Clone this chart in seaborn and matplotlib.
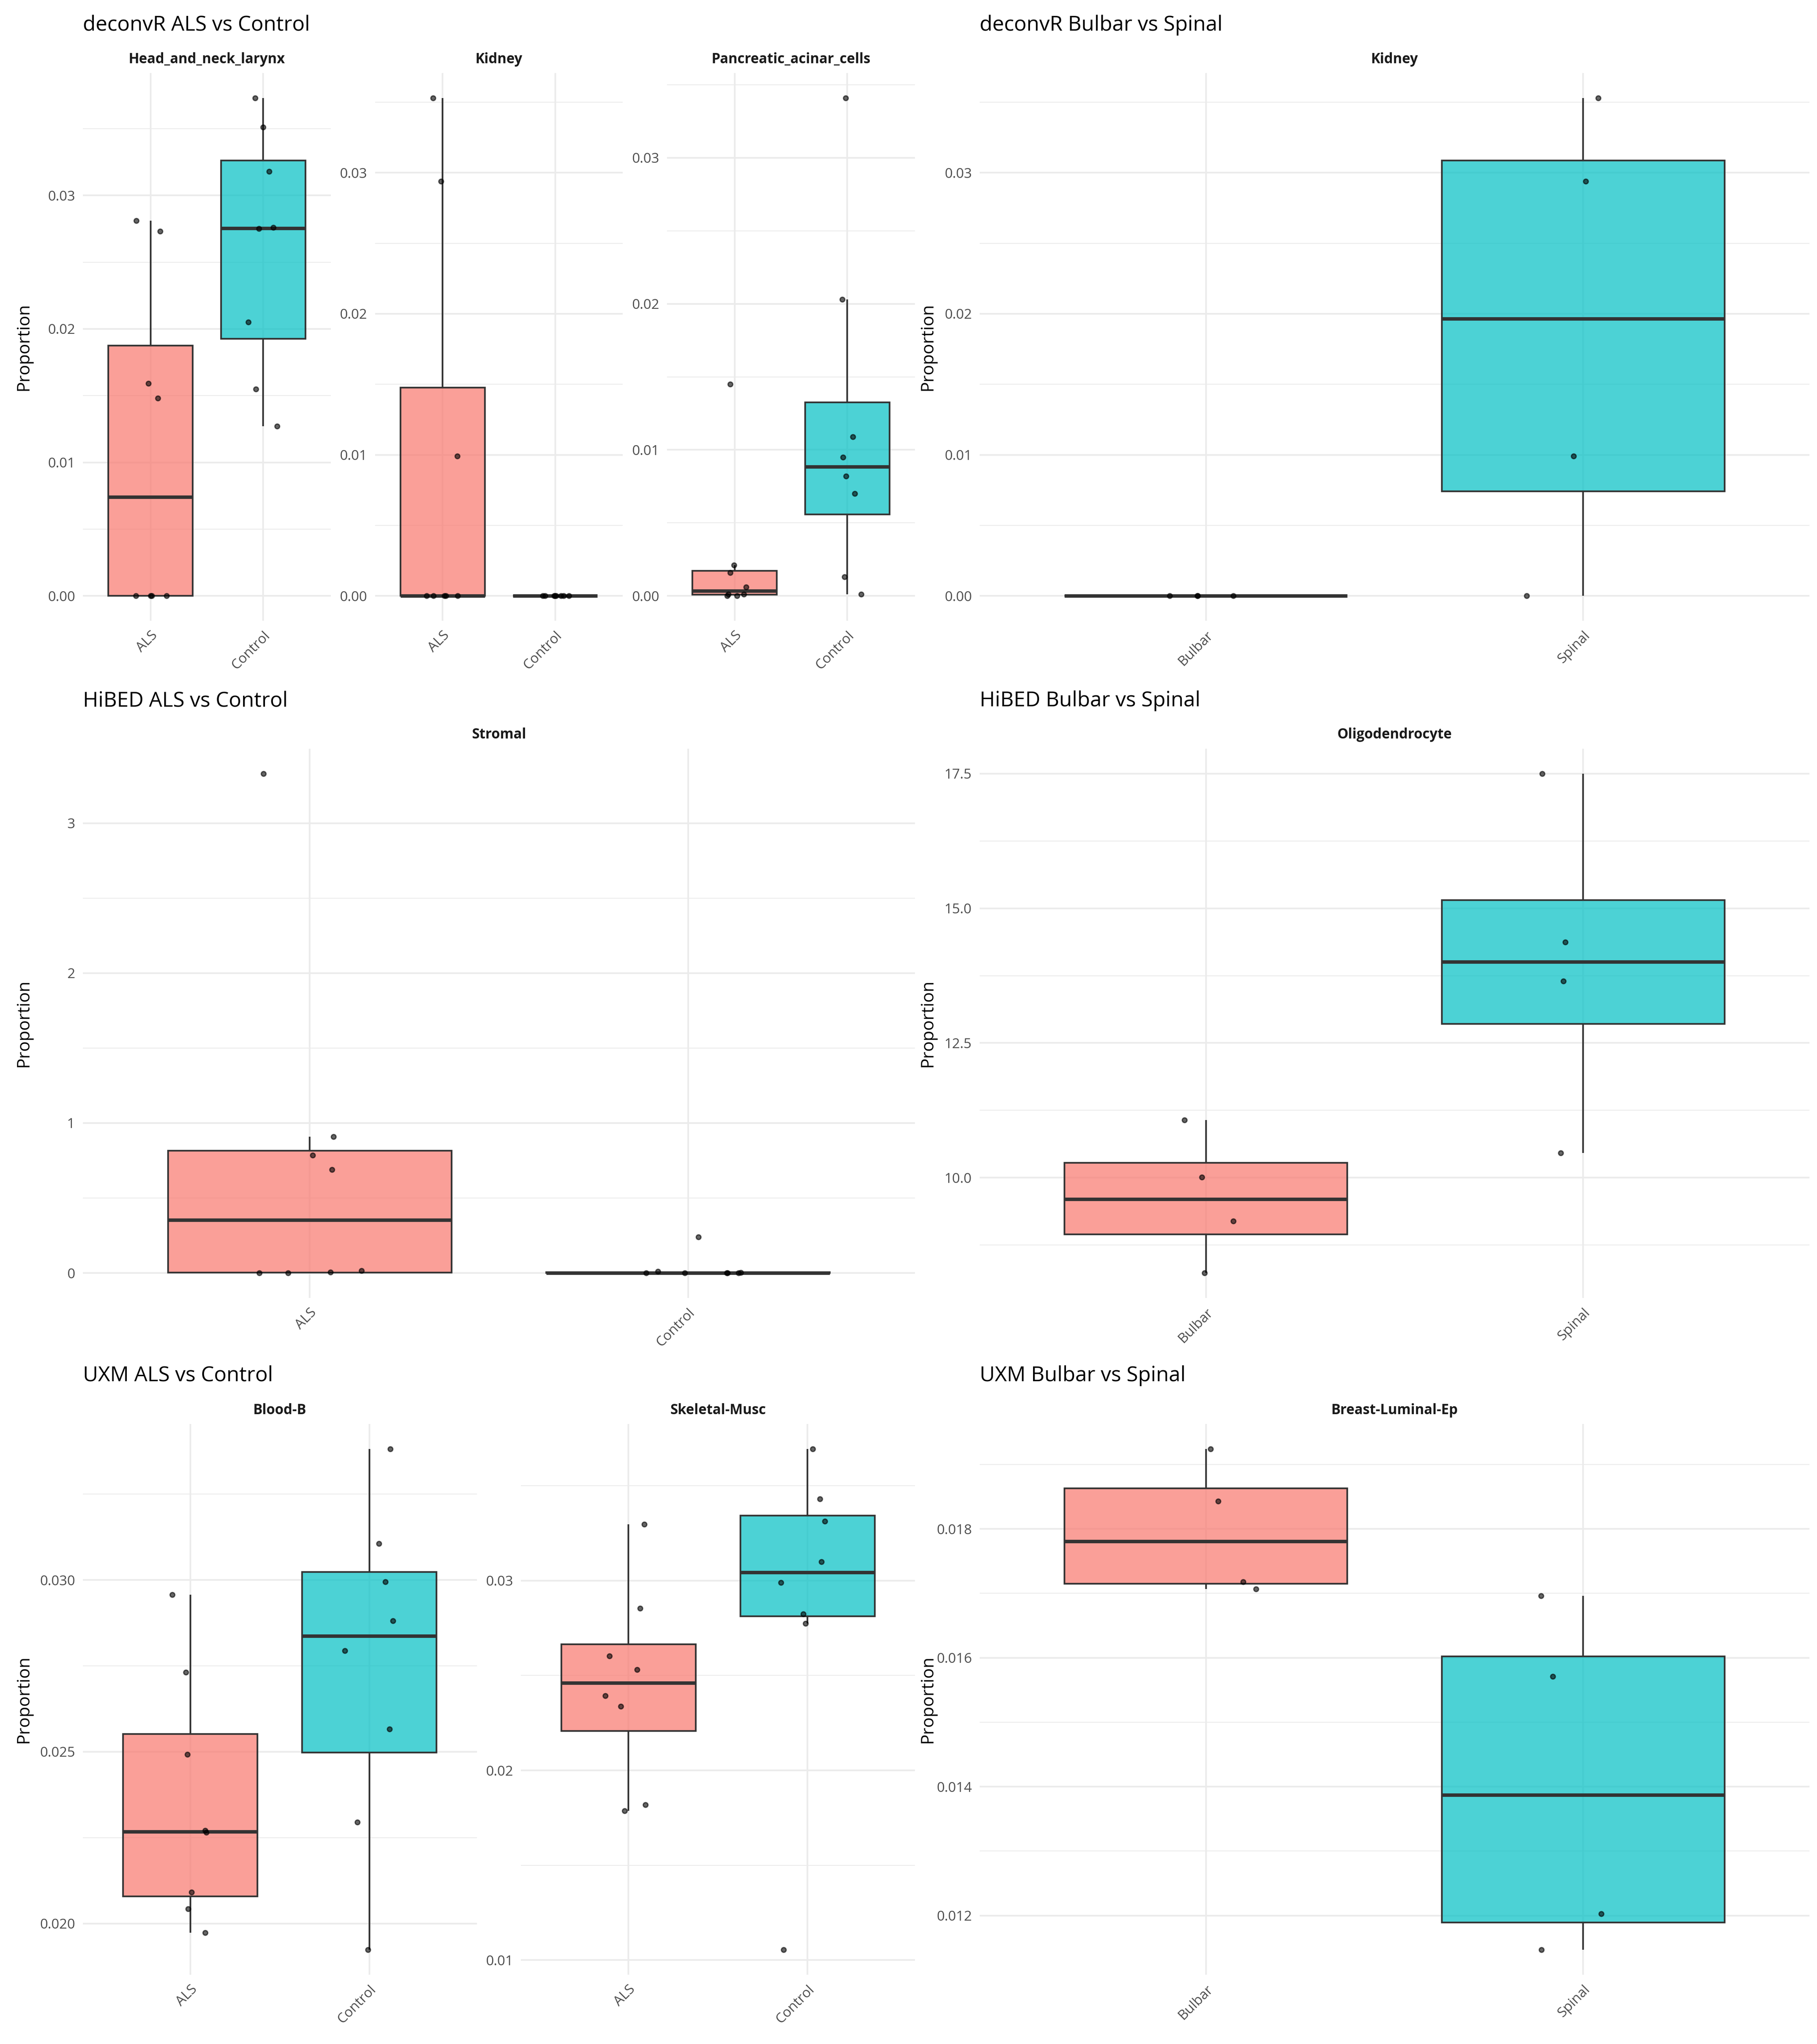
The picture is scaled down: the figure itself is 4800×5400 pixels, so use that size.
import numpy as np
import pandas as pd
import matplotlib.pyplot as plt
import seaborn as sns
from matplotlib.colors import to_rgba
from matplotlib.ticker import AutoMinorLocator

sns.set_theme(style="white")
plt.rcParams['font.family'] = ['Open Sans', 'DejaVu Sans']

# group levels
als_ctrl = ["ALS", "Control"]
bulbar_spinal = ["Bulbar", "Spinal"]

# deconvR ALS vs Control
dec_headneck_als = [0.0281, 0.0273, 0.0159, 0.0148, 0.0, 0.0, 0.0, 0.0]
dec_headneck_ctrl = [0.0373, 0.0351, 0.0318, 0.0276, 0.0275, 0.0205, 0.0155, 0.0127]
dec_kidney_als = [0.0353, 0.0294, 0.0099, 0.0, 0.0, 0.0, 0.0, 0.0]
dec_kidney_ctrl = [0.0, 0.0, 0.0, 0.0, 0.0, 0.0, 0.0, 0.0]
dec_pancreas_als = [0.0145, 0.0021, 0.0016, 0.0006, 0.0001, 0.0001, 0.0, 0.0]
dec_pancreas_ctrl = [0.0341, 0.0203, 0.0109, 0.0095, 0.0082, 0.0070, 0.0013, 0.0001]

# deconvR Bulbar vs Spinal
dec_kidney_bulbar = [0.0, 0.0, 0.0, 0.0]
dec_kidney_spinal = [0.0353, 0.0294, 0.0099, 0.0]

# HiBED ALS vs Control
hib_stromal_als = [3.33, 0.91, 0.785, 0.69, 0.015, 0.005, 0.0, 0.0]
hib_stromal_ctrl = [0.24, 0.01, 0.002, 0.0, 0.0, 0.0, 0.0, 0.0]

# HiBED Bulbar vs Spinal
hib_oligo_bulbar = [11.07, 10.01, 9.19, 8.23]
hib_oligo_spinal = [17.50, 14.37, 13.65, 10.46]

# UXM ALS vs Control
uxm_bloodb_als = [0.02957, 0.02731, 0.02492, 0.02271, 0.02265, 0.02091, 0.02043, 0.01973]
uxm_bloodb_ctrl = [0.03381, 0.03106, 0.02995, 0.02881, 0.02794, 0.02566, 0.02295, 0.01924]
uxm_skel_als = [0.03297, 0.02854, 0.02602, 0.02531, 0.02392, 0.02337, 0.01818, 0.01786]
uxm_skel_ctrl = [0.03693, 0.03430, 0.03313, 0.03098, 0.02989, 0.02824, 0.02774, 0.01055]

# UXM Bulbar vs Spinal
uxm_breast_bulbar = [0.01924, 0.01843, 0.01718, 0.01707]
uxm_breast_spinal = [0.01696, 0.01571, 0.01203, 0.01147]

# y tick labels per facet
ticks_dec = ["0.00", "0.01", "0.02", "0.03"]
ticks_stromal = ["0", "1", "2", "3"]
ticks_oligo = ["10.0", "12.5", "15.0", "17.5"]
ticks_bloodb = ["0.020", "0.025", "0.030"]
ticks_skel = ["0.01", "0.02", "0.03"]
ticks_breast = ["0.012", "0.014", "0.016", "0.018"]

panels = [
    (0, 0, "deconvR ALS vs Control", als_ctrl, [
        ("Head_and_neck_larynx", dec_headneck_als, dec_headneck_ctrl, ticks_dec),
        ("Kidney", dec_kidney_als, dec_kidney_ctrl, ticks_dec),
        ("Pancreatic_acinar_cells", dec_pancreas_als, dec_pancreas_ctrl, ticks_dec)]),
    (0, 1, "deconvR Bulbar vs Spinal", bulbar_spinal, [
        ("Kidney", dec_kidney_bulbar, dec_kidney_spinal, ticks_dec)]),
    (1, 0, "HiBED ALS vs Control", als_ctrl, [
        ("Stromal", hib_stromal_als, hib_stromal_ctrl, ticks_stromal)]),
    (1, 1, "HiBED Bulbar vs Spinal", bulbar_spinal, [
        ("Oligodendrocyte", hib_oligo_bulbar, hib_oligo_spinal, ticks_oligo)]),
    (2, 0, "UXM ALS vs Control", als_ctrl, [
        ("Blood-B", uxm_bloodb_als, uxm_bloodb_ctrl, ticks_bloodb),
        ("Skeletal-Musc", uxm_skel_als, uxm_skel_ctrl, ticks_skel)]),
    (2, 1, "UXM Bulbar vs Spinal", bulbar_spinal, [
        ("Breast-Luminal-Ep", uxm_breast_bulbar, uxm_breast_spinal, ticks_breast)]),
]

colors = ["#F8766D", "#00BFC4"]
grid_col = "#EBEBEB"

# layout in pixels (figure is 4800 x 5400)
W, H = 4800, 5400
rows = [
    dict(title_y=66, strip_y=157, top=193, bottom=1640),
    dict(title_y=1852, strip_y=1941, top=1978, bottom=3429),
    dict(title_y=3634, strip_y=3726, top=3762, bottom=5217),
]
cols = [dict(x0=219, x1=2417, ylab=62), dict(x0=2588, x1=4780, ylab=2450)]
gap = 117

np.random.seed(7)
fig = plt.figure(figsize=(16, 18), dpi=300)

for r, c, title, levels, facets in panels:
    row, col = rows[r], cols[c]
    n = len(facets)
    fw = (col["x1"] - col["x0"] - gap * (n - 1)) / n
    fig.text(col["x0"] / W, 1 - row["title_y"] / H, title, ha="left", va="center",
             fontsize=13.2, color="black")
    fig.text(col["ylab"] / W, 1 - (row["top"] + row["bottom"]) / 2 / H, "Proportion",
             rotation=90, ha="center", va="center", fontsize=11, color="black")
    for i, (name, a, b, labels) in enumerate(facets):
        x0 = col["x0"] + i * (fw + gap)
        ax = fig.add_axes([x0 / W, 1 - row["bottom"] / H, fw / W,
                           (row["bottom"] - row["top"]) / H])
        df = pd.DataFrame({"group": [levels[0]] * len(a) + [levels[1]] * len(b),
                           "value": a + b})
        sns.boxplot(data=df, x="group", y="value", hue="group", order=levels,
                    hue_order=levels, palette=dict(zip(levels, colors)), saturation=1,
                    width=0.75, showfliers=False, showcaps=False, linecolor="#333333",
                    linewidth=1.07, medianprops=dict(linewidth=2.2, color="#333333"),
                    legend=False, ax=ax)
        for p in ax.patches:
            p.set_facecolor(to_rgba(p.get_facecolor(), 0.7))
        sns.stripplot(data=df, x="group", y="value", order=levels, color="black",
                      edgecolor="black", alpha=0.6, size=3.0, linewidth=0.8,
                      jitter=0.15, zorder=3, ax=ax)

        vals = np.array(a + b)
        pad = (vals.max() - vals.min()) * 0.05
        ax.set_ylim(vals.min() - pad, vals.max() + pad)
        ax.set_xlim(-0.6, 1.6)
        ax.set_yticks([float(t) for t in labels], labels)
        ax.yaxis.set_minor_locator(AutoMinorLocator(2))
        ax.set_axisbelow(True)
        ax.grid(which="major", axis="both", color=grid_col, linewidth=1.07)
        ax.grid(which="minor", axis="y", color=grid_col, linewidth=0.55)
        ax.tick_params(which="both", length=0, labelsize=8.8, labelcolor="#4D4D4D", pad=5)
        for s in ax.spines.values():
            s.set_visible(False)
        ax.set_xlabel("")
        ax.set_ylabel("")
        plt.setp(ax.get_xticklabels(), rotation=45, ha="right", va="top",
                 rotation_mode="anchor")
        fig.text((x0 + fw / 2) / W, 1 - row["strip_y"] / H, name, ha="center",
                 va="center", fontsize=8.8, fontweight="bold", color="#1A1A1A")

fig.savefig("out.png", dpi=300)
